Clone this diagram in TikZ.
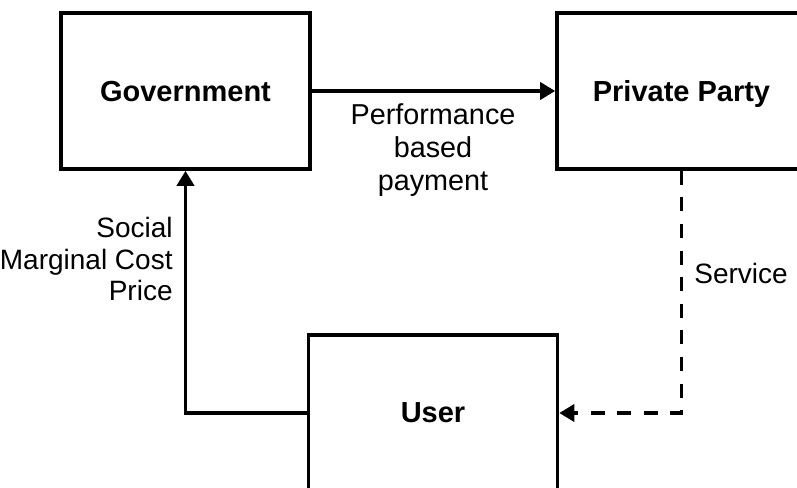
\documentclass[tikz,border=0pt]{standalone}
\usepackage{fontspec}
\setmainfont{Liberation Sans}
\usetikzlibrary{arrows.meta}

\tikzset{
  party/.style={draw, line width=1.8pt, inner sep=0pt, minimum width=124.5pt,
    minimum height=78pt, text depth=0pt, font=\fontsize{14.5}{17}\selectfont\bfseries},
  flow/.style={line width=1.8pt, -{Triangle[length=7.5pt,width=8.5pt]}},
  flowtext/.style={inner sep=0pt, font=\fontsize{14}{16.5}\selectfont}
}

\begin{document}
\begin{tikzpicture}[x=0.5pt,y=-0.5pt]
   \useasboundingbox (0,0) rectangle (797,487);
   \node[party] (gov) at (185.5,91) {Government};
   \node[party] (pp) at (681.5,91) {Private Party};
   \node[party] (user) at (433,413) {User};
   \draw[flow] (gov) -- (pp);
   \draw[flow] (user.west) -| (gov.south);
   \draw[flow, dash pattern=on 7pt off 6.3pt] (pp.south) |- (user.east);
   \node[flowtext, align=center, font=\fontsize{14.4}{16.5}\selectfont] (pay) at (433,150) {Performance\\based\\payment};
   \node[flowtext, align=right, anchor=east, font=\fontsize{14}{15.6}\selectfont] (price) at (173,259) {Social\\Marginal Cost\\Price};
   \node[flowtext, anchor=west] (serv) at (694,273) {Service};
\end{tikzpicture}
\end{document}
